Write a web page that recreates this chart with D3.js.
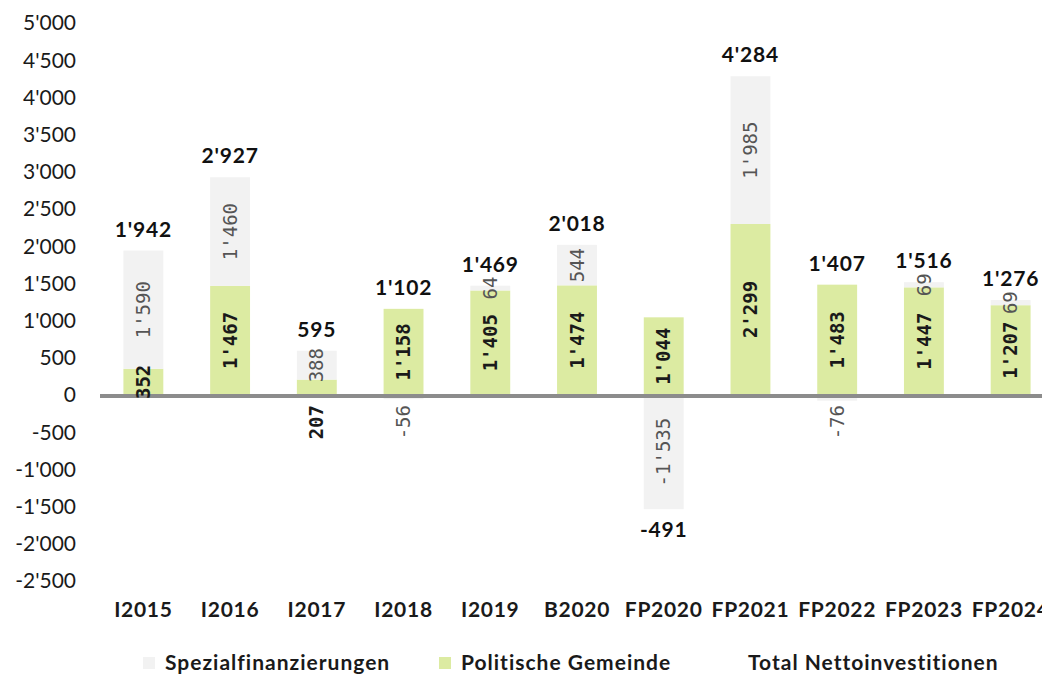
<!DOCTYPE html>
<html>
<head>
<meta charset="utf-8">
<script src="https://cdn.jsdelivr.net/npm/d3@7"></script>
<style>
  body { margin: 0; background: #fff; }
  svg { display: block; font-family: Lato, 'Open Sans', sans-serif; }
</style>
</head>
<body>
<svg id="chart" width="1042" height="674"></svg>
<script>
// data
const categories = ['I2015', 'I2016', 'I2017', 'I2018', 'I2019', 'B2020', 'FP2020', 'FP2021', 'FP2022', 'FP2023', 'FP2024']
const politische = [352, 1467, 207, 1158, 1405, 1474, 1044, 2299, 1483, 1447, 1207]
const spezial = [1590, 1460, 388, -56, 64, 544, -1535, 1985, -76, 69, 69]
const totals = [1942, 2927, 595, 1102, 1469, 2018, -491, 4284, 1407, 1516, 1276]
const yTicks = [-2500, -2000, -1500, -1000, -500, 0, 500, 1000, 1500, 2000, 2500, 3000, 3500, 4000, 4500, 5000]
const legendItems = ['Spezialfinanzierungen', 'Politische Gemeinde', 'Total Nettoinvestitionen']

const GREEN = '#dceba2'
const GREY = '#f2f2f2'
const MONO = "'DejaVu Sans Mono', 'Liberation Mono', monospace"

const locale = d3.formatLocale({ decimal: '.', thousands: "'", grouping: [3], currency: ['', ''], minus: '-' })
const fmt = locale.format(',d')

const svg = d3.select('svg#chart')

const y = d3.scaleLinear()
  .domain([-2500, 5000])
  .range([581, 23])

const x = d3.scaleBand()
  .domain(categories)
  .range([100, 1054])
  .paddingInner(0.54)
  .paddingOuter(0.27)

// stack: positive and negative values stacked separately, like Excel
const rows = categories.map((c, i) => {
  const segs = []
  let pos = 0
  let neg = 0
  ;[['pol', politische[i]], ['spez', spezial[i]]].forEach(([key, v]) => {
    if (v >= 0) {
      segs.push({ key, v, y0: pos, y1: pos + v })
      pos += v
    } else {
      segs.push({ key, v, y0: neg + v, y1: neg })
      neg += v
    }
  })
  return { cat: c, segs, pos, neg, total: totals[i] }
})

// y axis labels
svg.append('g')
  .selectAll('text')
  .data(yTicks)
  .join('text')
  .attr('x', 76)
  .attr('y', d => y(d))
  .attr('dy', '0.35em')
  .attr('text-anchor', 'end')
  .attr('font-size', 21)
  .attr('fill', '#1a1a1a')
  .text(d => fmt(d))

// bars
svg.append('g')
  .selectAll('g.cat')
  .data(rows)
  .join('g')
  .classed('cat', true)
  .selectAll('rect')
  .data(d => d.segs.map(s => ({ ...s, cat: d.cat })))
  .join('rect')
  .attr('x', d => x(d.cat))
  .attr('width', x.bandwidth())
  .attr('y', d => y(d.y1))
  .attr('height', d => y(d.y0) - y(d.y1))
  .attr('fill', d => d.key === 'pol' ? GREEN : GREY)

// zero line
svg.append('line')
  .attr('x1', 100)
  .attr('x2', 1042)
  .attr('y1', y(0) + 1)
  .attr('y2', y(0) + 1)
  .attr('stroke', '#8c8c8c')
  .attr('stroke-width', 4)

// segment labels, rotated; small segments sitting on the zero line
// get their label pushed below the axis
const SMALL = 250
const isSmallBase = d => Math.abs(d.v) < SMALL && (d.y0 === 0 || d.y1 === 0)

svg.append('g')
  .selectAll('g.cat')
  .data(rows)
  .join('g')
  .selectAll('text')
  .data(d => d.segs.map(s => ({ ...s, cat: d.cat })))
  .join('text')
  .attr('transform', d => {
    const cx = x(d.cat) + x.bandwidth() / 2
    const cy = isSmallBase(d) ? y(0) + 10 : y((d.y0 + d.y1) / 2)
    return `translate(${cx},${cy}) rotate(-90)`
  })
  .attr('text-anchor', d => isSmallBase(d) ? 'end' : 'middle')
  .attr('dy', '0.35em')
  .attr('font-family', MONO)
  .attr('font-size', 19)
  .attr('font-weight', d => d.key === 'pol' ? 'bold' : 'normal')
  .attr('fill', d => d.key === 'pol' ? '#1a1a1a' : '#555')
  .text(d => fmt(d.v))

// totals
svg.append('g')
  .selectAll('text')
  .data(rows)
  .join('text')
  .attr('x', d => x(d.cat) + x.bandwidth() / 2)
  .attr('y', d => d.total >= 0 ? y(d.pos) - 14 : y(d.neg) + 28)
  .attr('text-anchor', 'middle')
  .attr('font-size', 21)
  .attr('letter-spacing', 0.8)
  .attr('font-weight', 'bold')
  .attr('fill', '#111')
  .text(d => fmt(d.total))

// x labels
svg.append('g')
  .selectAll('text')
  .data(categories)
  .join('text')
  .attr('x', d => x(d) + x.bandwidth() / 2)
  .attr('y', 617)
  .attr('text-anchor', 'middle')
  .attr('font-size', 21)
  .attr('letter-spacing', 0.7)
  .attr('font-weight', 'bold')
  .attr('fill', '#1a1a1a')
  .text(d => d)

// legend
const legendX = [143, 439, 748]
const legendCol = [GREY, GREEN, null]
const lg = svg.append('g')
  .selectAll('g')
  .data(legendItems)
  .join('g')
  .attr('transform', (d, i) => `translate(${legendX[i]},663)`)
lg.filter((d, i) => legendCol[i])
  .append('rect')
  .attr('x', 0)
  .attr('y', -6)
  .attr('width', 12)
  .attr('height', 12)
  .attr('fill', d => legendCol[legendItems.indexOf(d)])
lg.append('text')
  .attr('x', (d, i) => i === 2 ? 0 : 22)
  .attr('dy', '0.35em')
  .attr('font-size', 21)
  .attr('letter-spacing', 1)
  .attr('font-weight', 'bold')
  .attr('fill', '#1a1a1a')
  .text(d => d)
</script>
</body>
</html>
